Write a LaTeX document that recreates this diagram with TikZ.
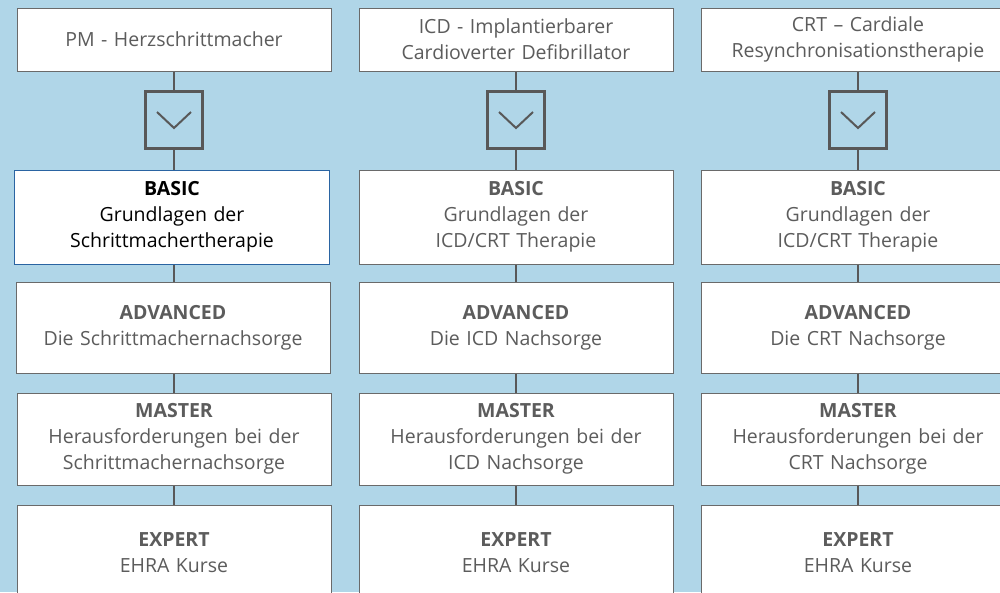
\documentclass[tikz,border=0pt]{standalone}
\usepackage{fontspec}
\setmainfont{Open Sans}
\usetikzlibrary{calc}
\definecolor{bg}{HTML}{B0D6E8}
\definecolor{linegray}{HTML}{585858}
\definecolor{boxgray}{HTML}{6A6A6A}
\definecolor{txtgray}{HTML}{5C5C5C}
\definecolor{selblue}{HTML}{2A64A2}
\begin{document}
\begin{tikzpicture}[x=1pt,y=-1pt,
  box/.style={draw=boxgray, line width=1pt, fill=white, minimum width=314pt,
    text width=305pt, align=center, inner sep=0pt,
    font=\fontsize{19.5}{26}\selectfont, text=txtgray},
  chevbox/.style={draw=linegray, line width=3pt, minimum size=57pt, inner sep=0pt},
  conn/.style={draw=linegray, line width=2pt},
  chev/.style={draw=linegray, line width=2pt}]
\useasboundingbox (0,0) rectangle (1000,592);
\clip (0,0) rectangle (1000,592);
\fill[bg] (0,0) rectangle (1000,592);

% column 1
\node[box, minimum height=63pt] (t1) at (174,39.5) {PM - Herzschrittmacher};
\node[chevbox] (c1) at (174,120) {};
\node[box, minimum height=94pt, draw=selblue, text=black, minimum width=315pt] (b1) at (172,217) {\textbf{BASIC}\\Grundlagen der\\Schrittmachertherapie};
\node[box, minimum height=91pt] (a1) at (173,327.5) {\textbf{ADVANCED}\\Die Schrittmachernachsorge};
\node[box, minimum height=92pt] (m1) at (174,439) {\textbf{MASTER}\\Herausforderungen bei der\\Schrittmachernachsorge};
\node[box, minimum height=96pt] (e1) at (174,553) {\textbf{EXPERT}\\EHRA Kurse};

% column 2
\node[box, minimum height=63pt] (t2) at (516,39.5) {ICD - Implantierbarer\\Cardioverter Defibrillator};
\node[chevbox] (c2) at (516,120) {};
\node[box, minimum height=94pt] (b2) at (516,217) {\textbf{BASIC}\\Grundlagen der\\ICD/CRT Therapie};
\node[box, minimum height=91pt] (a2) at (516,327.5) {\textbf{ADVANCED}\\Die ICD Nachsorge};
\node[box, minimum height=92pt] (m2) at (516,439) {\textbf{MASTER}\\Herausforderungen bei der\\ICD Nachsorge};
\node[box, minimum height=96pt] (e2) at (516,553) {\textbf{EXPERT}\\EHRA Kurse};

% column 3
\node[box, minimum height=63pt] (t3) at (858,39.5) {CRT – Cardiale\\Resynchronisationstherapie};
\node[chevbox] (c3) at (858,120) {};
\node[box, minimum height=94pt] (b3) at (858,217) {\textbf{BASIC}\\Grundlagen der\\ICD/CRT Therapie};
\node[box, minimum height=91pt] (a3) at (858,327.5) {\textbf{ADVANCED}\\Die CRT Nachsorge};
\node[box, minimum height=92pt] (m3) at (858,439) {\textbf{MASTER}\\Herausforderungen bei der\\CRT Nachsorge};
\node[box, minimum height=96pt] (e3) at (858,553) {\textbf{EXPERT}\\EHRA Kurse};

\foreach \i in {1,2,3}{
  \draw[conn] (t\i.south) -- (c\i.north);
  \draw[conn] (c\i.south) -- (c\i.south |- b\i.north);
  \draw[conn] (b\i.south -| c\i.south) -- (c\i.south |- a\i.north);
  \draw[conn] (a\i.south -| c\i.south) -- (c\i.south |- m\i.north);
  \draw[conn] (m\i.south -| c\i.south) -- (c\i.south |- e\i.north);
  \draw[chev] ($(c\i.center)+(-17,-8)$) -- ($(c\i.center)+(0,8)$) -- ($(c\i.center)+(17,-8)$);
}
\end{tikzpicture}
\end{document}
